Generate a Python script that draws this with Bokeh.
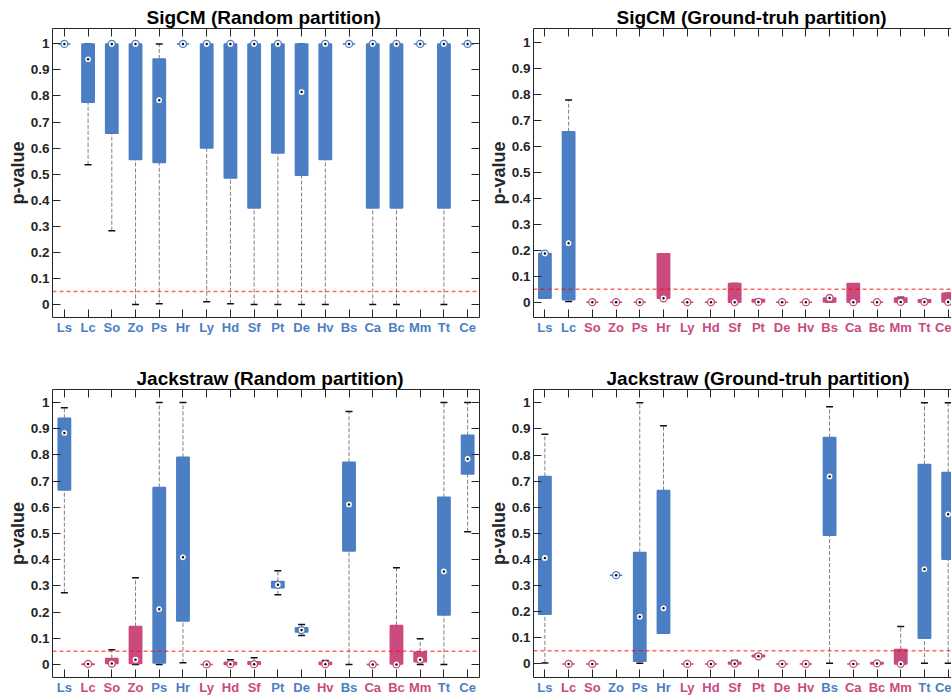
from bokeh.plotting import figure
from bokeh.models import (Range1d, LinearAxis, FixedTicker, CustomJSTickFormatter,
                          Span, ColumnDataSource, Title)
from bokeh.layouts import column, row
from bokeh.embed import file_html
from bokeh.resources import INLINE

categories = ["Ls", "Lc", "So", "Zo", "Ps", "Hr", "Ly", "Hd", "Sf", "Pt",
              "De", "Hv", "Bs", "Ca", "Bc", "Mm", "Tt", "Ce"]
y_ticks = [0, 0.1, 0.2, 0.3, 0.4, 0.5, 0.6, 0.7, 0.8, 0.9, 1]
threshold = 0.05

# group: 1 = blue, 0 = pink
sigcm_rand_group = [1, 1, 1, 1, 1, 1, 1, 1, 1, 1, 1, 1, 1, 1, 1, 1, 1, 1]
sigcm_rand_q1 = [1, 0.776, 0.657, 0.556, 0.545, 1, 0.600, 0.485, 0.370, 0.581, 0.496, 0.556, 1, 0.370, 0.370, 1, 0.370, 1]
sigcm_rand_q3 = [1, 1, 1, 1, 0.942, 1, 1, 1, 1, 1, 1, 1, 1, 1, 1, 1, 1, 1]
sigcm_rand_med = [1, 0.941, 1, 1, 0.784, 1, 1, 1, 1, 1, 0.815, 1, 1, 1, 1, 1, 1, 1]
sigcm_rand_lo = [1, 0.536, 0.283, 0, 0.003, 1, 0.010, 0.003, 0, 0, 0, 0, 1, 0, 0, 1, 0, 1]
sigcm_rand_hi = [1, 1, 1, 1, 1, 1, 1, 1, 1, 1, 1, 1, 1, 1, 1, 1, 1, 1]

sigcm_gt_group = [1, 1, 0, 0, 0, 0, 0, 0, 0, 0, 0, 0, 0, 0, 0, 0, 0, 0]
sigcm_gt_q1 = [0.015, 0.009, 0, 0, 0, 0.015, 0, 0, 0, 0.001, 0, 0, 0.001, 0, 0, 0.0, 0.0, 0.001]
sigcm_gt_q3 = [0.187, 0.656, 0, 0, 0, 0.186, 0, 0, 0.072, 0.010, 0, 0, 0.016, 0.072, 0, 0.016, 0.009, 0.034]
sigcm_gt_med = [0.187, 0.227, 0, 0, 0, 0.015, 0, 0, 0, 0.001, 0, 0, 0.016, 0, 0, 0.001, 0.001, 0.001]
sigcm_gt_lo = [0.015, 0.003, 0, 0, 0, 0.015, 0, 0, 0, 0.001, 0, 0, 0.001, 0, 0, 0.0, 0.0, 0.001]
sigcm_gt_hi = [0.187, 0.778, 0, 0, 0, 0.186, 0, 0, 0.072, 0.010, 0, 0, 0.016, 0.019, 0, 0.019, 0.009, 0.034]

jack_rand_group = [1, 0, 0, 0, 1, 1, 0, 0, 0, 1, 1, 0, 1, 0, 0, 0, 1, 1]
jack_rand_q1 = [0.666, 0, 0.003, 0.003, 0.005, 0.166, 0, 0, 0.001, 0.293, 0.124, 0, 0.433, 0, 0.002, 0.010, 0.189, 0.727]
jack_rand_q3 = [0.940, 0.002, 0.023, 0.145, 0.676, 0.791, 0, 0.008, 0.010, 0.317, 0.140, 0.008, 0.772, 0, 0.149, 0.047, 0.638, 0.875]
jack_rand_med = [0.884, 0.002, 0.003, 0.018, 0.211, 0.409, 0, 0.001, 0.001, 0.304, 0.131, 0.001, 0.611, 0, 0.0, 0.018, 0.355, 0.785]
jack_rand_lo = [0.274, 0, 0.003, 0, 0, 0.006, 0, 0, 0.001, 0.266, 0.110, 0, 0, 0, 0, 0, 0, 0.507]
jack_rand_hi = [0.980, 0.002, 0.056, 0.331, 1, 1, 0, 0.018, 0.025, 0.358, 0.152, 0.015, 0.966, 0, 0.369, 0.098, 1, 1]

jack_gt_group = [1, 0, 0, 1, 1, 1, 0, 0, 0, 0, 0, 0, 1, 0, 0, 0, 1, 1]
jack_gt_q1 = [0.190, 0, 0, 0.340, 0.010, 0.117, 0, 0, 0, 0.027, 0, 0, 0.493, 0, 0, 0, 0.098, 0.401]
jack_gt_q3 = [0.718, 0, 0, 0.340, 0.427, 0.664, 0, 0, 0.006, 0.033, 0, 0, 0.867, 0, 0.005, 0.055, 0.764, 0.733]
jack_gt_med = [0.406, 0, 0, 0.340, 0.181, 0.213, 0, 0, 0.001, 0.029, 0, 0, 0.718, 0, 0.002, 0, 0.363, 0.573]
jack_gt_lo = [0.004, 0, 0, 0.340, 0.003, 0.117, 0, 0, 0, 0.025, 0, 0, 0.003, 0, 0, 0, 0.003, 0.003]
jack_gt_hi = [0.880, 0, 0, 0.340, 1, 0.912, 0, 0, 0.013, 0.038, 0, 0, 0.985, 0, 0.005, 0.143, 1, 1]

BLUE = "#4b7ec3"
PINK = "#cb4a7e"
DARK = "#262626"
FONT = "Liberation Sans"
EMPTY = CustomJSTickFormatter(code="return '';")


def base_axis(ax, ticks):
    ax.ticker = FixedTicker(ticks=ticks)
    ax.major_tick_in = 8
    ax.major_tick_out = 0
    ax.minor_tick_line_color = None
    ax.axis_line_color = DARK
    ax.axis_line_width = 1
    ax.major_tick_line_color = DARK
    ax.major_tick_line_width = 1


def empty_axis(ticks):
    ax = LinearAxis()
    base_axis(ax, ticks)
    ax.formatter = EMPTY
    ax.major_label_text_font_size = "1px"
    ax.major_label_standoff = 0
    return ax


def label_axis(ticks, labels, color, standoff, line):
    ax = LinearAxis()
    base_axis(ax, ticks)
    if not line:
        ax.axis_line_color = None
        ax.major_tick_line_color = None
    ax.formatter = CustomJSTickFormatter(args=dict(labels=labels),
                                         code="return labels[Math.round(tick) - 1];")
    ax.major_label_standoff = standoff
    ax.major_label_text_font = FONT
    ax.major_label_text_font_style = "bold"
    ax.major_label_text_font_size = "13px"
    ax.major_label_text_color = color
    return ax


def panel(title, grp, q1, q3, med, lo, hi, width, height, x_start, x_end,
          y_start, y_end, mb_left, mb_right, mb_top, mb_bottom, right_axis, title_offset):
    p = figure(width=width, height=height, title=None,
               x_range=Range1d(x_start, x_end), y_range=Range1d(y_start, y_end),
               output_backend="svg", toolbar_location=None,
               x_axis_type=None, y_axis_type=None,
               min_border_left=mb_left, min_border_right=mb_right,
               min_border_top=mb_top, min_border_bottom=mb_bottom)
    p.outline_line_color = None
    p.background_fill_color = "white"
    p.border_fill_color = "white"
    xs = list(range(1, len(categories) + 1))
    colors = [BLUE if g else PINK for g in grp]
    src = ColumnDataSource(dict(x=xs, q1=q1, q3=q3, med=med, lo=lo, hi=hi, color=colors))
    p.segment(x0="x", y0="q3", x1="x", y1="hi", source=src,
              line_color="#7f7f7f", line_width=1, line_dash="4 2")
    p.segment(x0="x", y0="lo", x1="x", y1="q1", source=src,
              line_color="#7f7f7f", line_width=1, line_dash="4 2")
    p.scatter(x="x", y="hi", marker="dash", size=7, line_color="#111111",
              line_width=1.5, source=src)
    p.scatter(x="x", y="lo", marker="dash", size=7, line_color="#111111",
              line_width=1.5, source=src)
    p.vbar(x="x", bottom="q1", top="q3", width=0.52, fill_color="color",
           line_color="color", line_width=1.5, source=src)
    p.add_layout(Span(location=threshold, dimension="width", line_color="#ff0000",
                      line_alpha=0.6, line_dash="4 3", line_width=1.5))
    r1 = p.scatter(x="x", y="med", marker="circle", size=7, fill_color="white",
                   line_color="color", line_width=1.3, source=src)
    r2 = p.scatter(x="x", y="med", marker="circle", size=2.5, fill_color="#111111",
                   line_color=None, source=src)
    r1.level = "overlay"
    r2.level = "overlay"

    # bottom axis with blue labels, then a second one carrying the pink labels
    blue_labels = [c if g else "" for c, g in zip(categories, grp)]
    pink_labels = ["" if g else c for c, g in zip(categories, grp)]
    p.add_layout(label_axis(xs, blue_labels, BLUE, 2, True), "below")
    p.add_layout(label_axis(xs, pink_labels, PINK, -18, False), "below")

    p.add_layout(empty_axis(xs), "above")

    ax_l = LinearAxis()
    base_axis(ax_l, y_ticks)
    ax_l.formatter = CustomJSTickFormatter(code="return (Math.round(tick*10)/10).toString();")
    ax_l.major_label_text_font = FONT
    ax_l.major_label_text_font_style = "bold"
    ax_l.major_label_text_font_size = "13.5px"
    ax_l.major_label_text_color = DARK
    ax_l.major_label_standoff = 3
    ax_l.axis_label = "p-value"
    ax_l.axis_label_text_font = FONT
    ax_l.axis_label_text_font_style = "bold"
    ax_l.axis_label_text_font_size = "18px"
    ax_l.axis_label_text_color = DARK
    ax_l.axis_label_standoff = 0
    p.add_layout(ax_l, "left")
    if right_axis:
        p.add_layout(empty_axis(y_ticks), "right")

    p.add_layout(Title(text=title, align="left", offset=title_offset, standoff=2,
                       text_font=FONT, text_font_style="bold", text_font_size="19px",
                       text_color="#000000"), "above")
    return p


p1 = panel("SigCM (Random partition)", sigcm_rand_group, sigcm_rand_q1, sigcm_rand_q3,
           sigcm_rand_med, sigcm_rand_lo, sigcm_rand_hi,
           483, 345, 0.5, 18.5, -0.05, 1.059, 52, 4, 28, 28, True, 94)
p2 = panel("SigCM (Ground-truh partition)", sigcm_gt_group, sigcm_gt_q1, sigcm_gt_q3,
           sigcm_gt_med, sigcm_gt_lo, sigcm_gt_hi,
           468, 345, 0.52, 18.14, -0.059, 1.053, 50, 0, 28, 28, False, 83)
p3 = panel("Jackstraw (Random partition)", jack_rand_group, jack_rand_q1, jack_rand_q3,
           jack_rand_med, jack_rand_lo, jack_rand_hi,
           483, 352, 0.5, 18.5, -0.05, 1.05, 52, 4, 44, 20, True, 84)
p4 = panel("Jackstraw (Ground-truh partition)", jack_gt_group, jack_gt_q1, jack_gt_q3,
           jack_gt_med, jack_gt_lo, jack_gt_hi,
           468, 352, 0.52, 18.14, -0.052, 1.051, 50, 0, 44, 20, False, 73)

layout = column(row(p1, p2), row(p3, p4))
open("out.html", "w").write(file_html(layout, INLINE))
